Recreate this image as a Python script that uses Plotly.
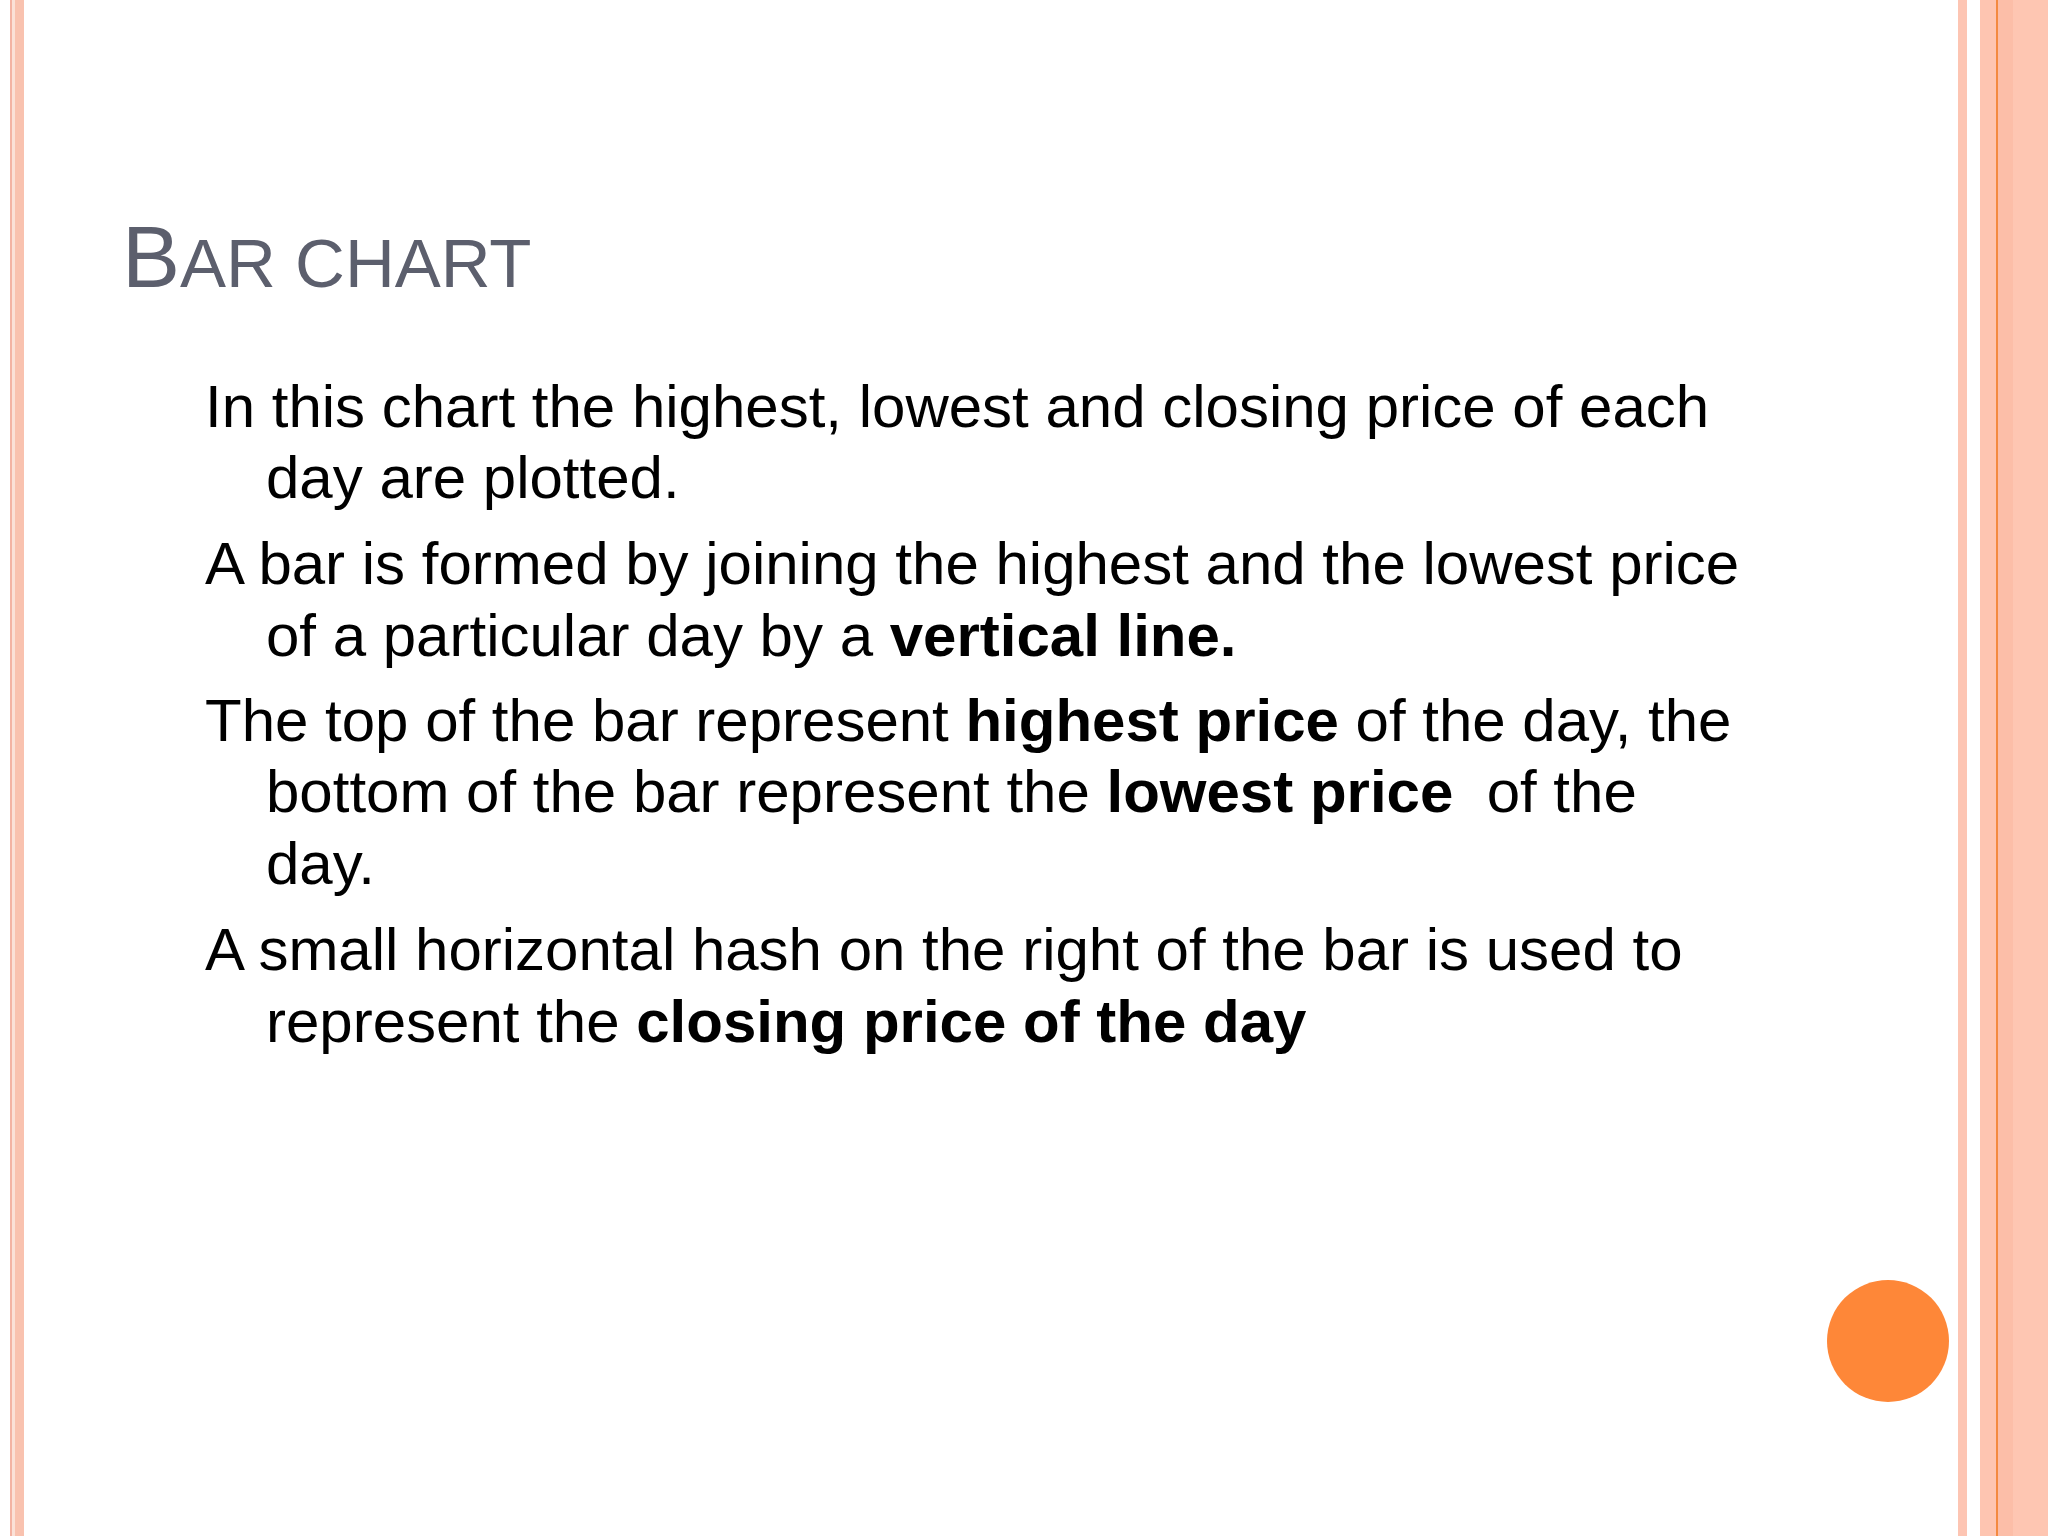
import plotly.graph_objects as go

W, H = 2048, 1536

title_big = "B"
title_small = "AR CHART"

# body text lines, indent level (0 = bullet line, 1 = continuation) and baseline in px
body_lines = [
    "In this chart the highest, lowest and closing price of each",
    "day are plotted.",
    "A bar is formed by joining the highest and the lowest price",
    "of a particular day by a <b>vertical line.</b>",
    "The top of the bar represent <b>highest price</b> of the day, the",
    "bottom of the bar represent the <b>lowest price</b>\u00a0 of the",
    "day.",
    "A small horizontal hash on the right of the bar is used to",
    "represent the <b>closing price of the day</b>",
]
body_indent = [0, 1, 0, 1, 0, 1, 1, 0, 1]
body_baseline = [427, 498, 584, 656, 741, 812, 884, 970, 1042]

# border stripes (x0, x1, colour)
stripes = [
    (10, 12, "#f3b3a3"),
    (12, 15, "#fbe1d7"),
    (15, 24, "#f9c2af"),
    (1958, 1967, "#fdc5b3"),
    (1980, 1996, "#fec5b1"),
    (1997, 2013, "#fcbea8"),
    (2013, 2048, "#fec6b2"),
    (1996, 1998, "#f48a40"),
]

FONT = "Arial, Liberation Sans, sans-serif"
body_size = 60
title_size = 87

fig = go.Figure()

shapes = []
for x0, x1, col in stripes:
    shapes.append(dict(type="rect", xref="x", yref="y", x0=x0, x1=x1, y0=0, y1=H,
                       fillcolor=col, line=dict(width=0), layer="below"))

# orange dot bottom right
cx, cy, r = 1888, 1341, 61
shapes.append(dict(type="circle", xref="x", yref="y", x0=cx - r, x1=cx + r,
                   y0=cy - r, y1=cy + r, fillcolor="#fe8738", line=dict(width=0)))

annotations = []
title_base = 287
annotations.append(dict(
    x=120, y=title_base - 0.3465 * title_size, xref="x", yref="y",
    xanchor="left", yanchor="middle", showarrow=False,
    text=title_big + '<span style="font-size:69px">' + title_small + "</span>",
    font=dict(family=FONT, size=title_size, color="#5c5f6d"),
))

for txt, ind, base in zip(body_lines, body_indent, body_baseline):
    annotations.append(dict(
        x=203 if ind == 0 else 264, y=base - 0.3465 * body_size,
        xref="x", yref="y", xanchor="left", yanchor="middle", showarrow=False,
        text=txt, font=dict(family=FONT, size=body_size, color="#000000"),
    ))

fig.update_layout(
    width=W, height=H,
    margin=dict(l=0, r=0, t=0, b=0),
    paper_bgcolor="white", plot_bgcolor="white",
    xaxis=dict(range=[0, W], visible=False, fixedrange=True),
    yaxis=dict(range=[H, 0], visible=False, fixedrange=True),
    shapes=shapes, annotations=annotations,
    showlegend=False,
)

# drop the default page margin so the slide sits at 0,0
fig.write_html("out.html", config={"displayModeBar": False},
               post_script="document.body.style.margin='0';")
